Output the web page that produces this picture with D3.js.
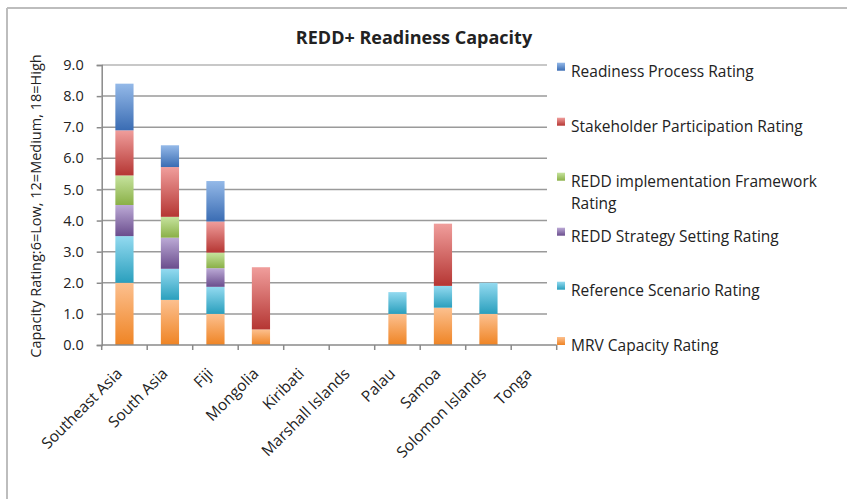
<!DOCTYPE html>
<html>
<head>
<meta charset="utf-8">
<script src="https://cdn.jsdelivr.net/npm/d3@7"></script>
<style>
  body { margin: 0; background: #fff; }
  text { font-family: "Open Sans", sans-serif; fill: #222; }
</style>
</head>
<body>
<svg></svg>
<script>
const width = 847;
const height = 499;

// data
const countries = ["Southeast Asia", "South Asia", "Fiji", "Mongolia", "Kiribati",
  "Marshall Islands", "Palau", "Samoa", "Solomon Islands", "Tonga"];
const mrv         = [2.0, 1.45, 1.0, 0.5, 0, 0, 1.0, 1.2, 1.0, 0];
const reference   = [1.5, 1.0, 0.87, 0, 0, 0, 0.7, 0.7, 1.0, 0];
const strategy    = [1.0, 1.0, 0.6, 0, 0, 0, 0, 0, 0, 0];
const framework   = [0.95, 0.67, 0.5, 0, 0, 0, 0, 0, 0, 0];
const stakeholder = [1.45, 1.6, 1.0, 2.0, 0, 0, 0, 2.0, 0, 0];
const readiness   = [1.5, 0.7, 1.3, 0, 0, 0, 0, 0, 0, 0];
const yTicks = [0, 1, 2, 3, 4, 5, 6, 7, 8, 9];

// bottom to top stacking
const series = [
  { key: "mrv", name: "MRV Capacity Rating", values: mrv, light: "#fcc08f", dark: "#ef8424" },
  { key: "ref", name: "Reference Scenario Rating", values: reference, light: "#93daf0", dark: "#2a9fbd" },
  { key: "strat", name: "REDD Strategy Setting Rating", values: strategy, light: "#bcaad6", dark: "#6a4d8d" },
  { key: "frame", name: "REDD implementation Framework Rating", values: framework, light: "#c6e39e", dark: "#8ab047" },
  { key: "stake", name: "Stakeholder Participation Rating", values: stakeholder, light: "#f09e9c", dark: "#b53633" },
  { key: "ready", name: "Readiness Process Rating", values: readiness, light: "#94b9e8", dark: "#3a6cb3" }
];

const table = countries.map((c, i) => {
  const row = { country: c };
  series.forEach(s => row[s.key] = s.values[i]);
  return row;
});

const svg = d3.select("svg")
  .attr("width", width)
  .attr("height", height);

const defs = svg.append("defs");
series.forEach(s => {
  const g = defs.append("linearGradient")
    .attr("id", "grad-" + s.key)
    .attr("x1", 0).attr("y1", 0).attr("x2", 0).attr("y2", 1);
  g.append("stop").attr("offset", "0%").attr("stop-color", s.light);
  g.append("stop").attr("offset", "100%").attr("stop-color", s.dark);
});

// outer frame (top and left only visible)
svg.append("line").attr("x1", 7).attr("x2", width).attr("y1", 8).attr("y2", 8)
  .attr("stroke", "#bdbdbd").attr("stroke-width", 2);
svg.append("line").attr("x1", 7).attr("x2", 7).attr("y1", 8).attr("y2", height)
  .attr("stroke", "#bdbdbd").attr("stroke-width", 2);

const plot = { left: 101.7, right: 556.7, top: 65, bottom: 345 };

const x = d3.scaleBand()
  .domain(countries)
  .range([plot.left, plot.right])
  .paddingInner(0.6)
  .paddingOuter(0.3);

const y = d3.scaleLinear()
  .domain([0, 9])
  .range([plot.bottom, plot.top]);

// gridlines
svg.append("g")
  .selectAll("line")
  .data(yTicks.filter(d => d > 0))
  .join("line")
  .attr("x1", plot.left)
  .attr("x2", 547)
  .attr("y1", d => y(d))
  .attr("y2", d => y(d))
  .attr("stroke", d => d === 9 ? "#c8c8c8" : "#9a9a9a")
  .attr("stroke-width", d => d === 9 ? 2 : 1.5);

// y axis
const yAxis = svg.append("g")
  .attr("transform", `translate(${plot.left},0)`)
  .call(d3.axisLeft(y).tickValues(yTicks).tickFormat(d3.format(".1f")).tickSize(5).tickPadding(13));
yAxis.select(".domain").attr("stroke", "#8a8a8a").attr("stroke-width", 1.5);
yAxis.selectAll(".tick line").attr("stroke", "#8a8a8a").attr("stroke-width", 1.5);
yAxis.selectAll("text").style("font-size", "14.5px").style("font-family", "'Open Sans', sans-serif").attr("fill", "#222");

// stacked bars
const stack = d3.stack().keys(series.map(s => s.key));
const layers = stack(table);

svg.append("g")
  .selectAll("g")
  .data(layers)
  .join("g")
  .attr("fill", d => `url(#grad-${d.key})`)
  .selectAll("rect")
  .data(d => d.filter(p => p[1] - p[0] > 0))
  .join("rect")
  .attr("x", d => x(d.data.country))
  .attr("width", x.bandwidth())
  .attr("y", d => y(d[1]))
  .attr("height", d => y(d[0]) - y(d[1]));

// x axis
const boundaries = d3.range(countries.length + 1).map(i => plot.left + i * (plot.right - plot.left) / countries.length);
svg.append("line")
  .attr("x1", plot.left).attr("x2", plot.right)
  .attr("y1", plot.bottom).attr("y2", plot.bottom)
  .attr("stroke", "#8a8a8a").attr("stroke-width", 1.5);
svg.append("g")
  .selectAll("line")
  .data(boundaries)
  .join("line")
  .attr("x1", d => d).attr("x2", d => d)
  .attr("y1", plot.bottom).attr("y2", plot.bottom + 5)
  .attr("stroke", "#8a8a8a").attr("stroke-width", 1.5);

svg.append("g")
  .selectAll("text")
  .data(countries)
  .join("text")
  .attr("transform", d => `translate(${x(d) + x.bandwidth() / 2 - 9},${plot.bottom + 22}) rotate(-45)`)
  .attr("text-anchor", "end")
  .attr("dy", "0.7em")
  .style("font-size", "15.5px")
  .text(d => d);

// y axis title
svg.append("text")
  .attr("transform", `translate(41,206) rotate(-90)`)
  .attr("text-anchor", "middle")
  .style("font-size", "14.5px")
  .text("Capacity Rating:6=Low, 12=Medium, 18=High");

// title
svg.append("text")
  .attr("x", 414)
  .attr("y", 44)
  .attr("text-anchor", "middle")
  .style("font-size", "18px")
  .style("font-weight", "bold")
  .text("REDD+ Readiness Capacity");

// legend
const legendItems = series.slice().reverse();
const legendY = [71.7, 126.7, 181.7, 236.7, 290.7, 346];
const legend = svg.append("g");
legendItems.forEach((s, i) => {
  const g = legend.append("g").attr("transform", `translate(557,${legendY[i]})`);
  g.append("rect")
    .attr("x", 0).attr("y", -9).attr("width", 8).attr("height", 8)
    .attr("fill", `url(#grad-${s.key})`);
  const words = s.name === "REDD implementation Framework Rating"
    ? ["REDD implementation Framework", "Rating"] : [s.name];
  words.forEach((w, j) => {
    g.append("text")
      .attr("x", 14)
      .attr("y", 5 + j * 22)
      .style("font-size", "15.5px")
      .text(w);
  });
});
</script>
</body>
</html>
